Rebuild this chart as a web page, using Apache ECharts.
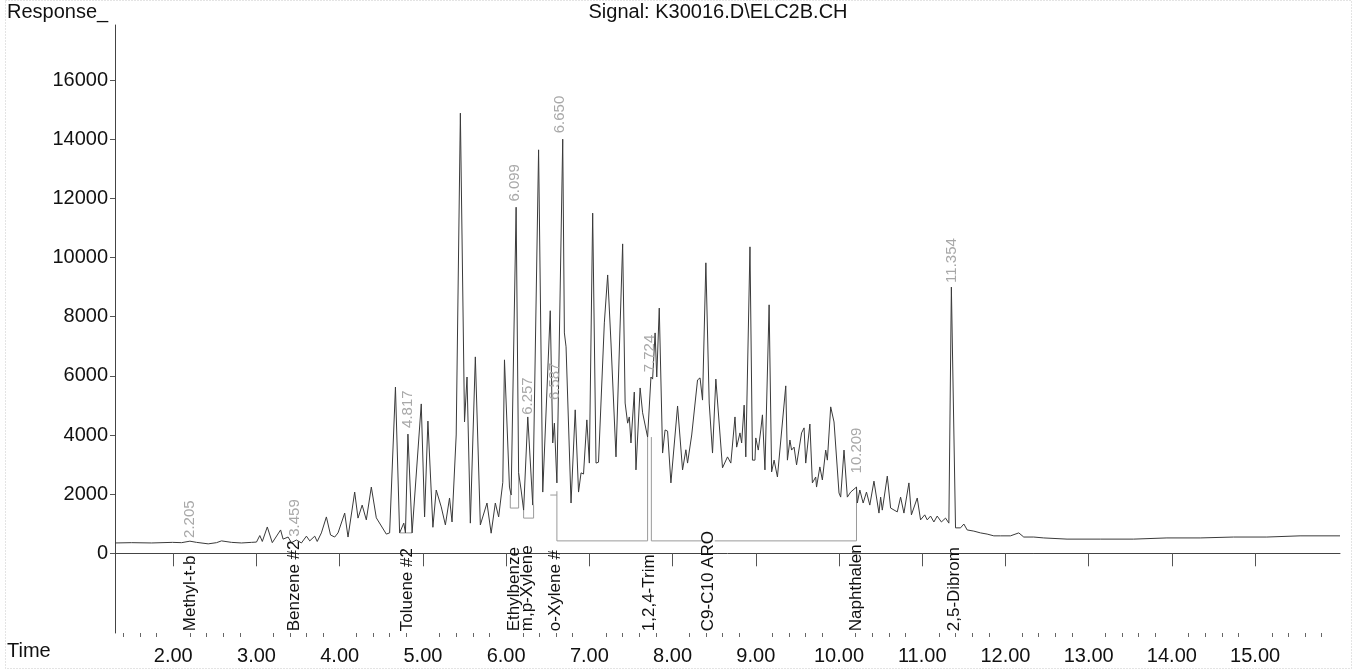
<!DOCTYPE html>
<html>
<head>
<meta charset="utf-8">
<title>Signal: K30016.D\ELC2B.CH</title>
<script src="https://cdn.jsdelivr.net/npm/echarts@6/dist/echarts.min.js"></script>
<style>
  html, body { margin: 0; padding: 0; background: #fff; }
  #chart { width: 1353px; height: 669px; }
</style>
</head>
<body>
<div id="chart"></div>
<script>
// chromatogram trace, time (min) / response
const times = [
  1.30, 1.50, 1.74, 1.99, 2.10, 2.20, 2.28, 2.42, 2.52, 2.58, 2.70, 2.82, 2.94, 3.00, 3.04, 3.07, 3.13, 3.19,
  3.29, 3.32, 3.38, 3.42, 3.48, 3.54, 3.60, 3.64, 3.70, 3.73, 3.78, 3.84, 3.89, 3.94, 3.98, 4.06, 4.10, 4.18,
  4.22, 4.27, 4.32, 4.38, 4.44, 4.46, 4.56, 4.60, 4.67, 4.72, 4.77, 4.79, 4.82, 4.87, 4.98, 5.02, 5.06, 5.12,
  5.16, 5.22, 5.27, 5.32, 5.35, 5.40, 5.45, 5.50, 5.53, 5.57, 5.63, 5.69, 5.77, 5.82, 5.87, 5.91, 5.96, 5.98,
  6.04, 6.06, 6.12, 6.15, 6.18, 6.21, 6.26, 6.32, 6.39, 6.44, 6.53, 6.56, 6.58, 6.61, 6.68, 6.70, 6.72, 6.78,
  6.83, 6.87, 6.90, 6.93, 6.97, 7.00, 7.04, 7.08, 7.11, 7.18, 7.20, 7.22, 7.26, 7.32, 7.40, 7.43, 7.46, 7.48,
  7.50, 7.54, 7.56, 7.61, 7.64, 7.66, 7.70, 7.74, 7.76, 7.79, 7.81, 7.84, 7.88, 7.91, 7.94, 7.98, 8.06, 8.12,
  8.16, 8.18, 8.23, 8.25, 8.30, 8.33, 8.36, 8.40, 8.44, 8.48, 8.52, 8.60, 8.66, 8.70, 8.75, 8.77, 8.81, 8.83,
  8.86, 8.88, 8.93, 8.96, 8.99, 9.00, 9.03, 9.06, 9.08, 9.11, 9.16, 9.19, 9.22, 9.26, 9.36, 9.38, 9.41, 9.43,
  9.46, 9.49, 9.55, 9.58, 9.60, 9.65, 9.68, 9.72, 9.73, 9.77, 9.80, 9.84, 9.86, 9.90, 9.94, 10.00, 10.02, 10.06,
  10.10, 10.14, 10.21, 10.22, 10.25, 10.29, 10.33, 10.37, 10.42, 10.48, 10.50, 10.52, 10.58, 10.62, 10.70, 10.74, 10.78, 10.84,
  10.87, 10.94, 10.98, 11.03, 11.06, 11.10, 11.14, 11.18, 11.23, 11.28, 11.32, 11.35, 11.40, 11.46, 11.50, 11.54, 11.62, 11.70,
  11.78, 11.86, 11.94, 12.06, 12.16, 12.22, 12.34, 12.46, 12.74, 13.14, 13.54, 13.94, 14.34, 14.74, 15.14, 15.54, 16.02
];
const responses = [
  350, 360, 350, 370, 360, 410, 370, 320, 360, 420, 370, 350, 370, 380, 600, 400, 890, 360,
  790, 480, 550, 360, 450, 350, 580, 420, 580, 400, 690, 1230, 620, 550, 690, 1360, 550, 2070,
  1190, 1630, 1130, 2240, 1200, 1160, 650, 690, 5620, 690, 1020, 690, 4030, 690, 5050, 1230, 4470, 880,
  2140, 1570, 960, 1870, 1060, 4000, 14880, 4440, 5960, 1020, 6640, 960, 1700, 680, 1700, 1230, 2400, 6540,
  2240, 1970, 11700, 2720, 2140, 1460, 4610, 1630, 13640, 2070, 8200, 3730, 4400, 2380, 14000, 7450, 6980, 1700,
  4850, 2070, 2720, 2680, 4510, 3050, 11500, 3050, 3080, 7790, 7790, 9410, 7110, 3260, 10460, 5080, 4400, 4610,
  3730, 5450, 2820, 5590, 4750, 4780, 3930, 5960, 5890, 7450, 5960, 8290, 3390, 4170, 4130, 2380, 4980, 2820,
  3500, 3050, 4000, 3960, 5860, 5930, 5180, 9820, 5080, 3390, 5890, 2890, 3260, 3050, 4610, 3590, 4070, 3730,
  5010, 3260, 10360, 3150, 3150, 3900, 3490, 4170, 4680, 2820, 8400, 2750, 3150, 2580, 5660, 3150, 3830, 3490,
  3590, 2990, 4070, 4240, 3050, 4370, 2380, 2580, 2240, 2920, 2480, 3490, 3150, 4950, 4440, 2040, 1900, 3490,
  1900, 2070, 2240, 1700, 2140, 1700, 2070, 1630, 2440, 1360, 1900, 1460, 2610, 1530, 1400, 1900, 1360, 2380,
  1300, 1870, 1130, 1300, 1130, 1260, 1060, 1260, 1060, 1190, 1020, 9000, 860, 860, 990, 790, 750, 690,
  650, 590, 590, 590, 690, 550, 550, 520, 480, 480, 480, 520, 520, 550, 550, 590, 590
];

// integration baselines drawn by the data system
const baselines = [
  [[4.72, 690], [4.87, 690]],
  [[6.05, 1970], [6.05, 1530], [6.15, 1530], [6.15, 2720]],
  [[6.21, 1460], [6.21, 1190], [6.33, 1190], [6.33, 1630]],
  [[6.53, 1970], [6.61, 1970]],
  [[6.61, 2100], [6.61, 420], [7.70, 420], [7.70, 3930]],
  [[7.745, 3930], [7.745, 420], [10.21, 420], [10.21, 2240]]
];
const groupMarker = [8.43, 420];

// retention time labels
const rtLabels = ['2.205', '3.459', '4.817', '6.099', '6.257', '6.587', '6.650', '7.724', '10.209', '11.354'];
const rtTimes = [2.205, 3.459, 4.817, 6.099, 6.257, 6.587, 6.650, 7.724, 10.209, 11.354];
const rtLevels = [520, 560, 4240, 11890, 4680, 5180, 14200, 6120, 2700, 9140];

// compound names
const compoundNames = ['Methyl-t-b', 'Benzene #2', 'Toluene #2', 'Ethylbenze', 'm,p-Xylene', 'o-Xylene #',
  '1,2,4-Trim', 'C9-C10 ARO', 'Naphthalen', '2,5-Dibrom'];
const compoundTimes = [2.20, 3.46, 4.81, 6.10, 6.26, 6.59, 7.72, 8.43, 10.21, 11.38];

// axis ticks
const xMajor = [2, 3, 4, 5, 6, 7, 8, 9, 10, 11, 12, 13, 14, 15];
const yMajor = [0, 2000, 4000, 6000, 8000, 10000, 12000, 14000, 16000];

const xMin = 1.3, xMax = 16.02, yMin = -2694, yMax = 17860;
const xMinor = [];
for (let k = 7; k < 80; k++) { if (k % 5) xMinor.push(k / 5); }

const FONT = '"Liberation Sans", Arial, Helvetica, sans-serif';
const chart = echarts.init(document.getElementById('chart'));

let trace = times.map((t, i) => [t, responses[i]]);

let baseSeries = baselines.map(seg => ({
  type: 'line',
  data: seg,
  symbol: 'none',
  silent: true,
  lineStyle: { color: '#9a9a9a', width: 1 },
  z: 1
}));

// vertical text, reading upward from the anchor point
function textItem(texts, fill, size, yFn) {
  return function (params, api) {
    const p = api.coord([api.value(0), yFn(api)]);
    return {
      type: 'text',
      x: p[0],
      y: p[1],
      rotation: Math.PI / 2,
      style: {
        text: texts[params.dataIndex],
        fill: fill,
        font: size + 'px ' + FONT,
        align: 'left',
        verticalAlign: 'middle'
      }
    };
  };
}

let option = {
  animation: false,
  backgroundColor: '#fff',
  grid: { left: 115, right: 13, top: 25, bottom: 36 },
  xAxis: [{
    type: 'value',
    min: xMin,
    max: xMax,
    axisLine: { lineStyle: { color: '#444', width: 1 } },
    axisTick: { customValues: xMajor, length: 13, lineStyle: { color: '#555' } },
    axisLabel: {
      customValues: xMajor,
      formatter: v => v.toFixed(2),
      fontSize: 20,
      fontFamily: FONT,
      color: '#111',
      margin: 13
    },
    splitLine: { show: false }
  }, {
    type: 'value',
    min: xMin,
    max: xMax,
    position: 'bottom',
    axisLine: { show: false },
    axisTick: { customValues: xMinor, length: 4, lineStyle: { color: '#666' } },
    axisLabel: { show: false },
    splitLine: { show: false }
  }],
  yAxis: {
    type: 'value',
    min: yMin,
    max: yMax,
    axisLine: { show: true, lineStyle: { color: '#444', width: 1 } },
    axisTick: { show: true, customValues: yMajor, length: 5, lineStyle: { color: '#555' } },
    axisLabel: {
      customValues: yMajor,
      formatter: v => String(v),
      fontSize: 20,
      fontFamily: FONT,
      color: '#111',
      margin: 7
    },
    splitLine: { show: false }
  },
  graphic: [
    { type: 'rect', shape: { x: 5.5, y: 0.5, width: 1346, height: 668 },
      style: { fill: 'none', stroke: '#c8c8c8', lineWidth: 1, lineDash: [1, 2] }, silent: true, z: -1 },
    { type: 'text', x: 7, y: 12, style: { text: 'Response_', font: '20px ' + FONT, fill: '#111', verticalAlign: 'middle' } },
    { type: 'text', x: 718, y: 12, style: { text: 'Signal: K30016.D\\ELC2B.CH', font: '20px ' + FONT, fill: '#111', align: 'center', verticalAlign: 'middle' } },
    { type: 'text', x: 7, y: 651, style: { text: 'Time', font: '20px ' + FONT, fill: '#111', verticalAlign: 'middle' } }
  ],
  series: [
    {
      type: 'line',
      data: trace,
      symbol: 'none',
      silent: true,
      lineStyle: { color: '#3a3a3a', width: 1 },
      z: 3
    },
    ...baseSeries,
    {
      type: 'scatter',
      data: [groupMarker],
      symbol: 'emptyCircle',
      symbolSize: [11, 8],
      itemStyle: { color: '#fff', borderColor: '#777', borderWidth: 1 },
      silent: true,
      z: 2
    },
    {
      type: 'custom',
      silent: true,
      clip: false,
      data: rtTimes.map((t, i) => [t, rtLevels[i]]),
      renderItem: textItem(rtLabels, '#a8a8a8', 15, api => api.value(1)),
      z: 4
    },
    {
      type: 'custom',
      silent: true,
      clip: false,
      data: compoundTimes.map(t => [t, 0]),
      renderItem: textItem(compoundNames, '#111', 17, () => yMin + 60),
      z: 4
    }
  ]
};
chart.setOption(option);
</script>
</body>
</html>
